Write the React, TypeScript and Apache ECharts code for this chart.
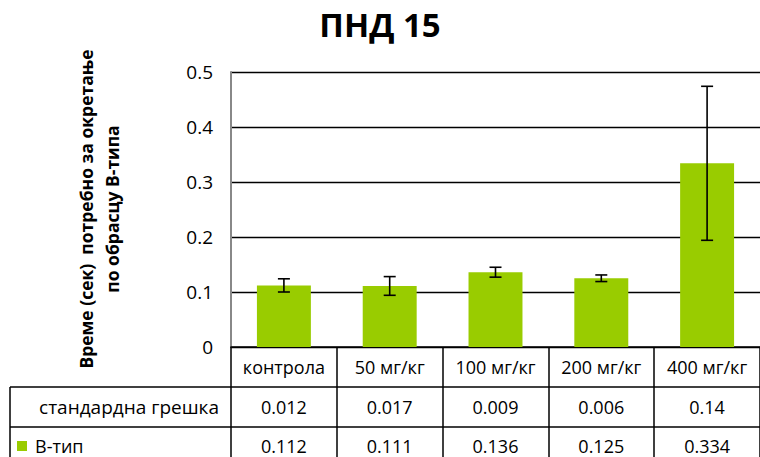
import React, { useEffect, useRef } from "react";
import * as echarts from "echarts";

const categories = ["контрола", "50 мг/кг", "100 мг/кг", "200 мг/кг", "400 мг/кг"];
const values = [0.112, 0.111, 0.136, 0.125, 0.334];
const stdErr = [0.012, 0.017, 0.009, 0.006, 0.14];
const rowLabels = ["стандардна грешка", "В-тип"];
const yTicks = { min: 0, max: 0.5, interval: 0.1 };
const titleText = "ПНД 15";
const yTitle = "Време (сек)  потребно за окретање\nпо обрасцу В-типа";

const GREEN = "#99CC00";
const FONT = "'Open Sans', 'Noto Sans', sans-serif";

export default function App() {
  const ref = useRef<HTMLDivElement>(null);
  useEffect(() => {
    document.body.style.margin = "0";
    const chart = echarts.init(ref.current!, null, { renderer: "svg" });
    const gridLeft = 231;
    const gridTop = 72;
    const gridBottomY = 347;
    const rowH = 40;
    const option: any = {
      animation: false,
      backgroundColor: "#fff",
      textStyle: { fontFamily: FONT },
      title: {
        text: titleText,
        left: "center",
        top: 3,
        textStyle: { fontFamily: FONT, fontSize: 33, fontWeight: "bold", color: "#000" },
      },
      grid: { left: gridLeft, right: -7, top: gridTop, bottom: 457 - gridBottomY },
      xAxis: [
        {
          type: "category",
          data: categories,
          position: "bottom",
          axisLine: { show: true, lineStyle: { color: "#000", width: 1.5 } },
          axisTick: { show: true, alignWithLabel: false, length: 120, lineStyle: { color: "#000", width: 1.5 } },
          axisLabel: { fontSize: 18, color: "#000", margin: 10, lineHeight: 20, fontFamily: FONT, interval: 0 },
        },
        {
          type: "category",
          data: stdErr.map(String),
          position: "bottom",
          offset: rowH,
          axisLine: { show: false },
          axisTick: { show: false },
          axisLabel: { fontSize: 18, color: "#000", margin: 10, lineHeight: 20, fontFamily: FONT, interval: 0 },
        },
        {
          type: "category",
          data: values.map(String),
          position: "bottom",
          offset: rowH * 2,
          axisLine: { show: false },
          axisTick: { show: false },
          axisLabel: { fontSize: 18, color: "#000", margin: 9, lineHeight: 20, fontFamily: FONT, interval: 0 },
        },
      ],
      yAxis: {
        type: "value",
        min: yTicks.min,
        max: yTicks.max,
        interval: yTicks.interval,
        axisLine: { show: true, lineStyle: { color: "#888", width: 2 } },
        axisTick: { show: false },
        splitLine: { show: true, lineStyle: { color: "#000", width: 1.3 } },
        axisLabel: {
          fontSize: 19,
          color: "#000",
          margin: 18,
          fontFamily: FONT,
          formatter: (v: number) => (v === 0 ? "0" : v.toFixed(1)),
        },
      },
      series: [
        {
          type: "bar",
          data: values,
          barCategoryGap: "49%",
          itemStyle: { color: GREEN },
          z: 2,
        },
        {
          type: "custom",
          data: values.map((v, i) => [i, v, stdErr[i]]),
          z: 5,
          renderItem: (params: any, api: any) => {
            const i = api.value(0);
            const v = api.value(1);
            const e = api.value(2);
            const top = api.coord([i, v + e]);
            const bot = api.coord([i, v - e]);
            const cap = 6;
            const style = { stroke: "#000", lineWidth: 1.6 };
            return {
              type: "group",
              children: [
                { type: "line", shape: { x1: top[0], y1: top[1], x2: bot[0], y2: bot[1] }, style },
                { type: "line", shape: { x1: top[0] - cap, y1: top[1], x2: top[0] + cap, y2: top[1] }, style },
                { type: "line", shape: { x1: bot[0] - cap, y1: bot[1], x2: bot[0] + cap, y2: bot[1] }, style },
              ],
            };
          },
        },
      ],
      graphic: [
        {
          type: "text",
          x: 99,
          y: 209,
          rotation: Math.PI / 2,
          style: {
            text: yTitle,
            font: `bold 17.5px ${FONT}`,
            fill: "#000",
            textAlign: "center",
            textVerticalAlign: "middle",
            lineHeight: 26,
          },
        },
        { type: "line", shape: { x1: 10, y1: gridBottomY + rowH, x2: 770, y2: gridBottomY + rowH }, style: { stroke: "#000", lineWidth: 1.5 } },
        { type: "line", shape: { x1: 10, y1: gridBottomY + rowH * 2, x2: 770, y2: gridBottomY + rowH * 2 }, style: { stroke: "#000", lineWidth: 1.5 } },
        { type: "line", shape: { x1: 10, y1: gridBottomY + rowH, x2: 10, y2: 470 }, style: { stroke: "#000", lineWidth: 1.5 } },
        {
          type: "text",
          x: 219,
          y: gridBottomY + rowH * 1.5,
          style: { text: rowLabels[0], font: `19px ${FONT}`, fill: "#000", textAlign: "right", textVerticalAlign: "middle" },
        },
        {
          type: "rect",
          shape: { x: 17, y: gridBottomY + rowH * 2.5 - 6, width: 10, height: 10 },
          style: { fill: GREEN },
        },
        {
          type: "text",
          x: 35,
          y: gridBottomY + rowH * 2.5 - 1,
          style: { text: rowLabels[1], font: `18px ${FONT}`, fill: "#000", textAlign: "left", textVerticalAlign: "middle" },
        },
      ],
    };
    chart.setOption(option);
    return () => chart.dispose();
  }, []);
  return <div ref={ref} style={{ width: 760, height: 457 }} />;
}
